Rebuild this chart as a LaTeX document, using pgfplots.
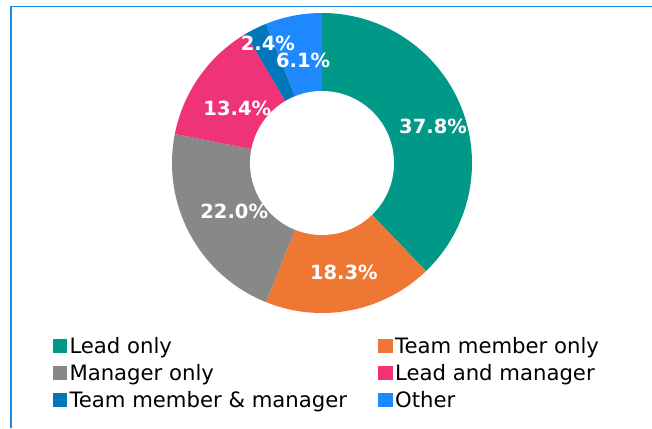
\documentclass[border=0pt]{standalone}
\usepackage{fontspec}
\setmainfont{DejaVu Sans}
\usepackage{pgfplots}
\usepackage{pgfplotstable}
\pgfplotsset{compat=1.18}

\definecolor{cLead}{HTML}{009988}
\definecolor{cTeam}{HTML}{EE7733}
\definecolor{cMgr}{HTML}{888888}
\definecolor{cLM}{HTML}{EE3377}
\definecolor{cTMM}{HTML}{0077BB}
\definecolor{cOther}{HTML}{1E88FF}
\definecolor{frameblue}{HTML}{1E88E5}

% share of respondents, slice colour, label radius and angle nudge
\pgfplotstableread[col sep=comma]{
name,pct,col,lr,da
Lead only,37.8,cLead,117,-3.6
Team member only,18.3,cTeam,112,0.3
Manager only,22.0,cMgr,100,0.2
Lead and manager,13.4,cLM,101,2.3
Team member \& manager,2.4,cTMM,131,-1.9
Other,6.1,cOther,104,-0.5
}\slices

\def\cx{322}\def\cy{265}\def\R{150}\def\rin{72}

\tikzset{
  pctlabel/.style={font=\bfseries\fontsize{19.5}{20}\selectfont, text=white, inner sep=0pt},
}

% build slice, label and legend commands from the table
\pgfplotstablegetrowsof{\slices}
\pgfmathtruncatemacro\lastrow{\pgfplotsretval-1}
\def\startang{90}
\def\slicecmds{}\def\labelcmds{}\def\legendcmds{}
\pgfplotsforeachungrouped \i in {0,...,\lastrow}{%
  \pgfplotstablegetelem{\i}{pct}\of\slices \let\pct\pgfplotsretval
  \pgfplotstablegetelem{\i}{col}\of\slices \let\col\pgfplotsretval
  \pgfplotstablegetelem{\i}{lr}\of\slices \let\lr\pgfplotsretval
  \pgfplotstablegetelem{\i}{da}\of\slices \let\da\pgfplotsretval
  \pgfplotstablegetelem{\i}{name}\of\slices \let\nm\pgfplotsretval
  \pgfmathsetmacro\endang{\startang-3.6*\pct}%
  \pgfmathsetmacro\midang{(\startang+\endang)/2+\da}%
  \pgfmathsetmacro\lx{\cx+\lr*cos(\midang)}%
  \pgfmathsetmacro\ly{\cy+\lr*sin(\midang)}%
  \xdef\slicecmds{\unexpanded\expandafter{\slicecmds}
    \noexpand\addplot[fill=\col, draw=none, domain=\endang:\startang, samples=90, forget plot]
      ({\cx+\R*cos(x)},{\cy+\R*sin(x)}) -- (axis cs:\cx,\cy) -- cycle;}%
  \xdef\labelcmds{\unexpanded\expandafter{\labelcmds}
    \noexpand\node[pctlabel] at (axis cs:\lx,\ly) {\pct\noexpand\%};}%
  \xdef\legendcmds{\unexpanded\expandafter{\legendcmds}
    \noexpand\addlegendimage{fill=\col, draw=none}
    \noexpand\addlegendentry{\unexpanded\expandafter{\nm}}}%
  \global\let\startang\endang
}

\begin{document}
\begin{tikzpicture}
\begin{axis}[
    width=652pt, height=428pt,
    scale only axis,
    xmin=0, xmax=652, ymin=0, ymax=428,
    hide axis,
    clip=false,
    legend columns=2,
    legend image code/.code={\fill[#1] (0pt,-5.5pt) rectangle (14.5pt,9pt); \path (17pt,0pt);},
    legend style={
        at={(axis cs:52.3,91)}, anchor=north west,
        draw=none, fill=none, inner sep=0pt,
        font=\fontsize{21.2}{24}\selectfont, text=black,
        nodes={inner sep=0pt, text height=16pt, text depth=5pt},
        row sep=6pt,
        /tikz/every even column/.append style={column sep=31pt},
    },
    legend cell align=left,
]
\slicecmds
\addplot[fill=white, draw=none, domain=0:360, samples=180, forget plot]
    ({\cx+\rin*cos(x)},{\cy+\rin*sin(x)}) -- cycle;
\labelcmds
\legendcmds
\draw[frameblue, line width=1.5pt] (axis cs:11,0) -- (axis cs:11,421.7) -- (axis cs:652,421.7);
\end{axis}
\pgfresetboundingbox
\path (current axis.south west) rectangle (current axis.north east);
\end{tikzpicture}
\end{document}
